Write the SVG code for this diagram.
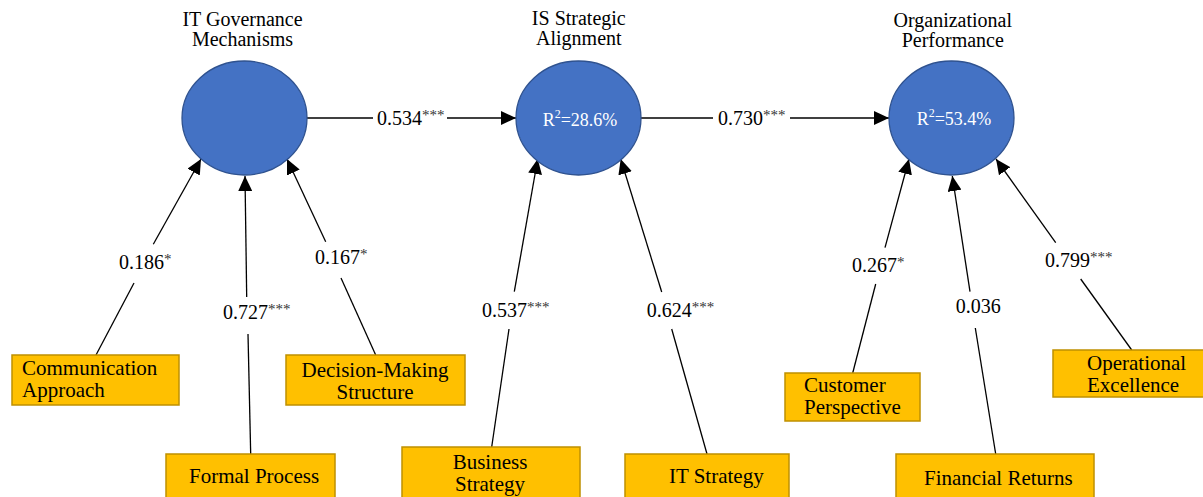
<svg xmlns="http://www.w3.org/2000/svg" width="1203" height="497" viewBox="0 0 1203 497">
<style>
.bg{fill:#ffffff}
.circ{fill:#4472C4;stroke:#2F528F;stroke-width:1.3}
.box{fill:#FFC000;stroke:#BF9000;stroke-width:1.5}
.title{font-family:"Liberation Serif",serif;font-size:20px;fill:#000;text-anchor:middle}
.bt{font-family:"Liberation Serif",serif;font-size:21px;fill:#000}
.lbl{font-family:"Liberation Serif",serif;font-size:20px;fill:#000}
.sup{font-size:15px;fill:#333}
.r2{font-family:"Liberation Serif",serif;font-size:18px;fill:#fff;text-anchor:middle}
.ln{stroke:#000;stroke-width:1.3;fill:none}
.arr{marker-end:url(#ah)}
</style>
<defs>
<marker id="ah" markerUnits="userSpaceOnUse" markerWidth="15" markerHeight="14" refX="15" refY="7" orient="auto">
<path d="M0,0 L15,7 L0,14 Z" fill="#000"/>
</marker>
</defs>
<rect class="bg" x="0" y="0" width="1203" height="497"/>

<g id="connectors">
<line class="ln" x1="307" y1="118" x2="373" y2="118"/>
<line class="ln arr" x1="447" y1="118" x2="516" y2="118"/>
<line class="ln" x1="641" y1="118" x2="713" y2="118"/>
<line class="ln arr" x1="790" y1="118" x2="889" y2="118"/>

<line class="ln" x1="96" y1="355" x2="134" y2="283"/>
<line class="ln arr" x1="153.3" y1="244.3" x2="201" y2="159"/>

<line class="ln" x1="250.7" y1="454" x2="248" y2="334"/>
<line class="ln arr" x1="246.7" y1="297" x2="245" y2="176"/>

<line class="ln" x1="375.7" y1="355" x2="341" y2="278"/>
<line class="ln arr" x1="325.7" y1="241.7" x2="287" y2="159"/>

<line class="ln" x1="491.7" y1="447" x2="509" y2="329"/>
<line class="ln arr" x1="514.3" y1="291.7" x2="537.7" y2="159"/>

<line class="ln" x1="707" y1="454" x2="671.7" y2="329"/>
<line class="ln arr" x1="661.7" y1="292" x2="620.7" y2="159"/>

<line class="ln" x1="852.7" y1="373" x2="875.7" y2="284"/>
<line class="ln arr" x1="885" y1="247.7" x2="909" y2="159"/>

<line class="ln" x1="995.7" y1="454" x2="975.3" y2="328"/>
<line class="ln arr" x1="970" y1="291.7" x2="952.3" y2="176"/>

<line class="ln" x1="1131.7" y1="350" x2="1080.7" y2="279"/>
<line class="ln arr" x1="1055.7" y1="242.7" x2="996" y2="159"/>

<text class="lbl" x="377" y="125">0.534<tspan class="sup" dy="-5">***</tspan></text>
<text class="lbl" x="718" y="125">0.730<tspan class="sup" dy="-5">***</tspan></text>
<text class="lbl" x="119" y="269">0.186<tspan class="sup" dy="-5">*</tspan></text>
<text class="lbl" x="223" y="319">0.727<tspan class="sup" dy="-5">***</tspan></text>
<text class="lbl" x="315" y="264">0.167<tspan class="sup" dy="-5">*</tspan></text>
<text class="lbl" x="482" y="317">0.537<tspan class="sup" dy="-5">***</tspan></text>
<text class="lbl" x="646.7" y="317">0.624<tspan class="sup" dy="-5">***</tspan></text>
<text class="lbl" x="852" y="272">0.267<tspan class="sup" dy="-5">*</tspan></text>
<text class="lbl" x="955.7" y="313">0.036</text>
<text class="lbl" x="1045" y="267">0.799<tspan class="sup" dy="-5">***</tspan></text>
</g>

<g id="it-governance">
<ellipse class="circ" cx="244.5" cy="118" rx="62.5" ry="57"/>
<text class="title" x="242.5" y="25.5">IT Governance</text>
<text class="title" x="242.5" y="46">Mechanisms</text>
</g>

<g id="is-alignment">
<ellipse class="circ" cx="578.5" cy="118" rx="62.5" ry="57"/>
<text class="title" x="578.8" y="24.5">IS Strategic</text>
<text class="title" x="578.8" y="45">Alignment</text>
<text class="r2" x="580" y="126">R<tspan font-size="12" dy="-8">2</tspan><tspan dy="8">=28.6%</tspan></text>
</g>

<g id="org-performance">
<ellipse class="circ" cx="951.5" cy="118" rx="62.5" ry="57"/>
<text class="title" x="952.8" y="26.5">Organizational</text>
<text class="title" x="952.8" y="47">Performance</text>
<text class="r2" x="954" y="125">R<tspan font-size="12" dy="-8">2</tspan><tspan dy="8">=53.4%</tspan></text>
</g>

<g id="communication">
<rect class="box" x="12" y="355" width="167" height="50"/>
<text class="bt" x="22" y="375">Communication</text>
<text class="bt" x="22" y="397">Approach</text>
</g>

<g id="formal-process">
<rect class="box" x="166" y="454" width="169" height="50"/>
<text class="bt" x="189" y="483">Formal Process</text>
</g>

<g id="decision-making">
<rect class="box" x="286" y="355" width="179" height="50"/>
<text class="bt" x="375" y="377" text-anchor="middle">Decision-Making</text>
<text class="bt" x="375" y="399" text-anchor="middle">Structure</text>
</g>

<g id="business-strategy">
<rect class="box" x="402" y="447" width="178" height="55"/>
<text class="bt" x="490" y="469" text-anchor="middle">Business</text>
<text class="bt" x="490" y="491" text-anchor="middle">Strategy</text>
</g>

<g id="it-strategy">
<rect class="box" x="625" y="454" width="164" height="50"/>
<text class="bt" x="669" y="483">IT Strategy</text>
</g>

<g id="customer">
<rect class="box" x="785" y="373" width="135" height="48"/>
<text class="bt" x="804" y="392">Customer</text>
<text class="bt" x="804" y="414">Perspective</text>
</g>

<g id="financial">
<rect class="box" x="896" y="454" width="198" height="50"/>
<text class="bt" x="924" y="485">Financial Returns</text>
</g>

<g id="operational">
<rect class="box" x="1053" y="350" width="155" height="47"/>
<text class="bt" x="1087" y="370">Operational</text>
<text class="bt" x="1087" y="392">Excellence</text>
</g>
</svg>
